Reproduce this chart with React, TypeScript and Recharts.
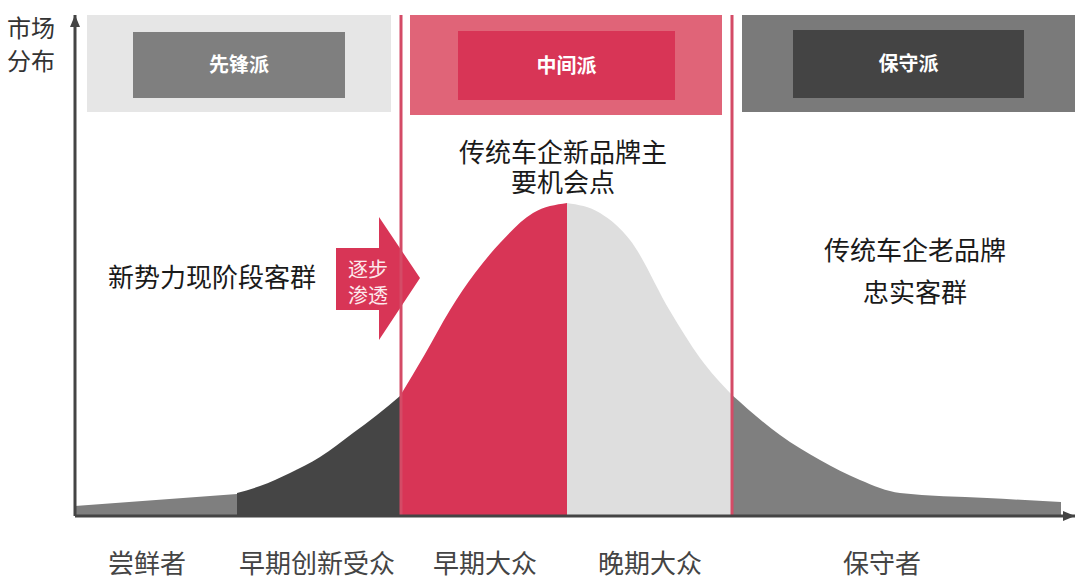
import React from 'react';
import { ComposedChart, Area, XAxis, YAxis, ReferenceLine, ReferenceArea } from 'recharts';

// adoption curve, x = position along the axis (0-100), value = share height
const innovators = [
  { x: 0, v: 10 },
  { x: 16.2, v: 22 },
];
const earlyAdopters = [
  { x: 16.2, v: 23 },
  { x: 18.5, v: 30 },
  { x: 21.5, v: 43 },
  { x: 24.5, v: 59 },
  { x: 27.8, v: 83 },
  { x: 30.2, v: 101 },
  { x: 32.5, v: 120 },
];
const earlyMajority = [
  { x: 32.5, v: 120 },
  { x: 35, v: 162 },
  { x: 37.5, v: 206 },
  { x: 40, v: 243 },
  { x: 42.5, v: 273 },
  { x: 45.8, v: 303 },
  { x: 49.2, v: 313 },
];
const lateMajority = [
  { x: 49.2, v: 313 },
  { x: 52.5, v: 303 },
  { x: 55.5, v: 276 },
  { x: 59.5, v: 205 },
  { x: 62.5, v: 158 },
  { x: 65.7, v: 121 },
];
const laggards = [
  { x: 65.7, v: 121 },
  { x: 70.5, v: 81 },
  { x: 74.5, v: 56 },
  { x: 78.5, v: 36 },
  { x: 82.5, v: 23 },
  { x: 91.2, v: 18 },
  { x: 98.6, v: 14 },
];

const categories = ['尝鲜者', '早期创新受众', '早期大众', '晚期大众', '保守者'];
const categoryPos = [7.2, 24.2, 41, 57.5, 80.7];
const groups = ['先锋派', '中间派', '保守派'];

const segments = [
  { key: 'innovators', points: innovators, fill: '#7f7f7f', type: 'linear' },
  { key: 'earlyAdopters', points: earlyAdopters, fill: '#454545', type: 'monotone' },
  { key: 'earlyMajority', points: earlyMajority, fill: '#d83556', type: 'monotone' },
  { key: 'lateMajority', points: lateMajority, fill: '#dedede', type: 'monotone' },
  { key: 'laggards', points: laggards, fill: '#7f7f7f', type: 'monotone' },
];

// merge the segments into rows keyed by x
const rowMap = new Map<number, any>();
segments.forEach((s) => {
  s.points.forEach((p) => {
    const row = rowMap.get(p.x) || { x: p.x };
    row[s.key] = p.v;
    rowMap.set(p.x, row);
  });
});
const data = Array.from(rowMap.values()).sort((a, b) => a.x - b.x);

// group boxes in axis units: [x1, x2, y1, y2]
const groupBoxes = [
  { outer: [1.2, 31.6, 404, 501], inner: [5.8, 27, 418, 484], bg: '#e6e6e6', fg: '#7f7f7f' },
  { outer: [33.5, 64.7, 401, 501], inner: [38.3, 60, 416, 485], bg: '#e06478', fg: '#d83556' },
  { outer: [66.7, 100, 404, 501], inner: [71.8, 94.9, 418, 486], bg: '#7a7a7a', fg: '#444444' },
];

const font = '"Noto Sans CJK SC", "Noto Sans", sans-serif';

const CategoryTick: React.FC<any> = ({ x, y, index }) => (
  <text x={x} y={y + 37} textAnchor="middle" dominantBaseline="central" fontSize={26} fill="#444" fontFamily={font}>
    {categories[index]}
  </text>
);

const App: React.FC = () => {
  return (
    <div style={{ position: 'absolute', left: 0, top: 0, width: 1080, height: 578, background: '#fff' }}>
      <svg width={1080} height={578} style={{ position: 'absolute', left: 0, top: 0 }}>
        <defs>
          <marker id="axisArrow" viewBox="0 0 12 10" refX={12} refY={5} markerWidth={12} markerHeight={10} markerUnits="userSpaceOnUse" orient="auto-start-reverse">
            <path d="M0,0 L12,5 L0,10 z" fill="#444" />
          </marker>
        </defs>
        <polygon points="336,248 379,248 379,217 420,278 379,340 379,310 336,310" fill="#d83556" />
        <g fontFamily={font} textAnchor="middle" dominantBaseline="central">
          <text x={31} y={26} fontSize={24} fill="#333">市场</text>
          <text x={31} y={59} fontSize={24} fill="#333">分布</text>
          <text x={368} y={268} fontSize={20} fill="#fde8ec">逐步</text>
          <text x={368} y={294} fontSize={20} fill="#fde8ec">渗透</text>
          <text x={563} y={150} fontSize={26} fill="#1a1a1a">传统车企新品牌主</text>
          <text x={563} y={180} fontSize={26} fill="#1a1a1a">要机会点</text>
          <text x={915} y={248} fontSize={26} fill="#1a1a1a">传统车企老品牌</text>
          <text x={915} y={290} fontSize={26} fill="#1a1a1a">忠实客群</text>
          <text x={108} y={275} fontSize={26} fill="#1a1a1a" textAnchor="start">新势力现阶段客群</text>
        </g>
      </svg>
      <div style={{ position: 'absolute', left: 0, top: 0 }}>
        <ComposedChart width={1080} height={578} data={data} margin={{ top: 15, right: 5, bottom: 0, left: 0 }}>
          {groupBoxes.map((g, i) => (
            <ReferenceArea
              key={'bg' + i}
              x1={g.outer[0]}
              x2={g.outer[1]}
              y1={g.outer[2]}
              y2={g.outer[3]}
              fill={g.bg}
              fillOpacity={1}
              stroke="none"
              ifOverflow="visible"
            />
          ))}
          {groupBoxes.map((g, i) => (
            <ReferenceArea
              key={'fg' + i}
              x1={g.inner[0]}
              x2={g.inner[1]}
              y1={g.inner[2]}
              y2={g.inner[3]}
              fill={g.fg}
              fillOpacity={1}
              stroke="none"
              ifOverflow="visible"
              label={{ value: groups[i], position: 'center', fill: '#fff', fontSize: 20, fontWeight: 'bold', fontFamily: font }}
            />
          ))}
          <XAxis
            dataKey="x"
            type="number"
            domain={[0, 100]}
            ticks={categoryPos}
            interval={0}
            tick={<CategoryTick />}
            tickLine={false}
            height={62}
            axisLine={{ stroke: '#444', strokeWidth: 3, markerEnd: 'url(#axisArrow)' }}
          />
          <YAxis
            type="number"
            domain={[0, 501]}
            width={75}
            tick={false}
            tickLine={false}
            axisLine={{ stroke: '#444', strokeWidth: 3, markerStart: 'url(#axisArrow)' }}
          />
          {segments.map((s) => (
            <Area
              key={s.key}
              dataKey={s.key}
              type={s.type as any}
              fill={s.fill}
              fillOpacity={1}
              stroke="none"
              connectNulls={false}
              isAnimationActive={false}
            />
          ))}
          <ReferenceLine x={32.6} stroke="#d44b66" strokeWidth={3} ifOverflow="visible" />
          <ReferenceLine x={65.7} stroke="#d44b66" strokeWidth={3} ifOverflow="visible" />
        </ComposedChart>
      </div>
    </div>
  );
};

export default App;
